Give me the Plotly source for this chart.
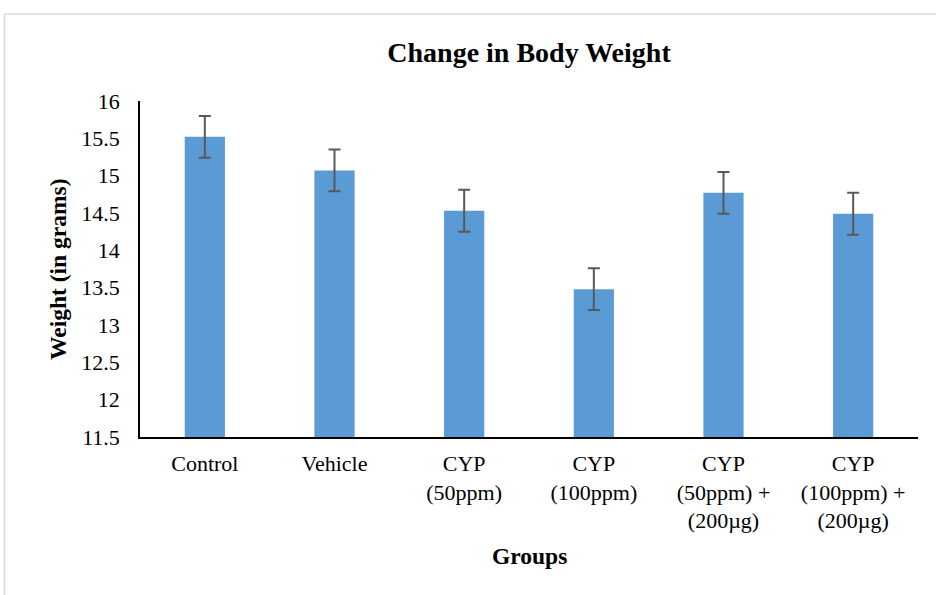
import plotly.graph_objects as go

groups = ["Control", "Vehicle", "CYP<br>(50ppm)", "CYP<br>(100ppm)",
          "CYP<br>(50ppm) +<br>(200µg)", "CYP<br>(100ppm) +<br>(200µg)"]
weights = [15.52, 15.07, 14.53, 13.48, 14.77, 14.49]
errors = [0.28, 0.28, 0.28, 0.28, 0.28, 0.28]
y_ticks = [11.5, 12, 12.5, 13, 13.5, 14, 14.5, 15, 15.5, 16]
y_tick_text = ["11.5", "12", "12.5", "13", "13.5", "14", "14.5", "15", "15.5", "16"]

W, H = 936, 595
L, R, T, B = 140, 18, 101, 158
pw, ph = W - L - R, H - T - B

font_family = "Liberation Serif, Times New Roman, serif"

fig = go.Figure(go.Bar(
    x=groups, y=weights,
    width=0.31,
    marker=dict(color="#5B9BD5", line=dict(width=0)),
    error_y=dict(type="data", array=errors, visible=True,
                 color="#595959", thickness=2, width=6),
))

fig.update_layout(
    width=W, height=H,
    margin=dict(l=L, r=R, t=T, b=B),
    paper_bgcolor="white", plot_bgcolor="white",
    showlegend=False,
    font=dict(family=font_family, size=22, color="black"),
    title=dict(text="<b>Change in Body Weight</b>", x=(L + pw / 2) / W, xanchor="center",
               y=1 - 52 / H, yanchor="middle", yref="container",
               font=dict(family=font_family, size=28, color="black")),
    xaxis=dict(showline=True, linecolor="black", linewidth=1.5, showgrid=False,
               ticks="", ticklabelstandoff=6, tickfont=dict(size=22)),
    yaxis=dict(range=[11.5, 16], tickvals=y_ticks, ticktext=y_tick_text,
               showline=True, linecolor="black", linewidth=1.5, showgrid=False,
               zeroline=False, ticks="", ticklabelstandoff=14, tickfont=dict(size=22)),
    annotations=[
        dict(text="<b>Weight (in grams)</b>", textangle=-90, xref="paper", yref="paper",
             x=(58 - L) / pw, y=(H - B - 270) / ph, xanchor="center", yanchor="middle",
             showarrow=False, font=dict(family=font_family, size=23.5, color="black")),
        dict(text="<b>Groups</b>", xref="paper", yref="paper",
             x=0.5, y=(H - B - 556) / ph, xanchor="center", yanchor="middle",
             showarrow=False, font=dict(family=font_family, size=23.5, color="black")),
    ],
    shapes=[dict(type="rect", xref="paper", yref="paper",
                 x0=(4.5 - L) / pw, x1=(W + 20 - L) / pw,
                 y0=(H - B - (H + 20)) / ph, y1=(H - B - 14) / ph,
                 line=dict(color="#D9D9D9", width=1.5), layer="below")],
)

fig.write_html("out.html", config={"displayModeBar": False},
               post_script="document.body.style.margin='0px';")
